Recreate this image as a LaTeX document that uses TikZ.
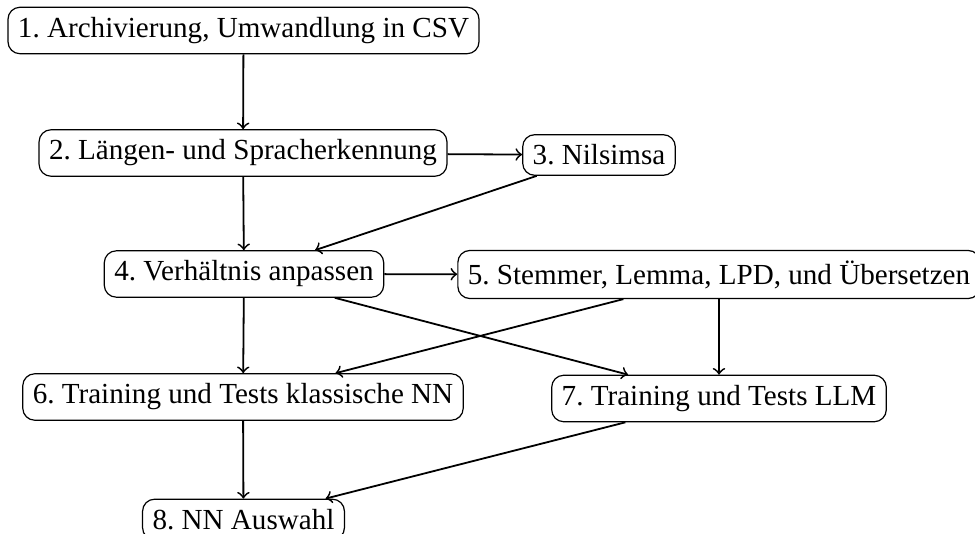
\documentclass[tikz,border=0pt]{standalone}
\usepackage{fontspec}
\setmainfont{Liberation Serif}
\frenchspacing
\begin{document}
\begin{tikzpicture}[x=0.33333pt,y=-0.33333pt,
  stepbox/.style={draw,rounded corners=4pt,font=\fontsize{9.7}{11.6}\selectfont,line width=0.4pt},
  conn/.style={->,semithick}]
\useasboundingbox (0,0) rectangle (975,534);
\node[stepbox] (n1) at (243.5,30.5) {1. Archivierung, Umwandlung in CSV};
\node[stepbox] (n2) at (243,153) {2. Längen- und Spracherkennung};
\node[stepbox] (n3) at (599,155) {3. Nilsimsa};
\node[stepbox] (n4) at (244,274) {4. Verhältnis anpassen};
\node[stepbox] (n5) at (719,274.5) {5. Stemmer, Lemma, LPD, und Übersetzen};
\node[stepbox] (n6) at (243,397) {6. Training und Tests klassische NN};
\node[stepbox] (n7) at (719,398.5) {7. Training und Tests LLM};
\node[stepbox] (n8) at (243.5,519.5) {8. NN Auswahl};
\draw[conn] (n1) -- (n2);
\draw[conn] (n2) -- (n3);
\draw[conn] (n2) -- (n4);
\draw[conn] (n3) -- (n4);
\draw[conn] (n4) -- (n5);
\draw[conn] (n4) -- (n6);
\draw[conn] (n4) -- (n7);
\draw[conn] (n5) -- (n6);
\draw[conn] (n5) -- (n7);
\draw[conn] (n6) -- (n8);
\draw[conn] (n7) -- (n8);
\end{tikzpicture}
\end{document}
